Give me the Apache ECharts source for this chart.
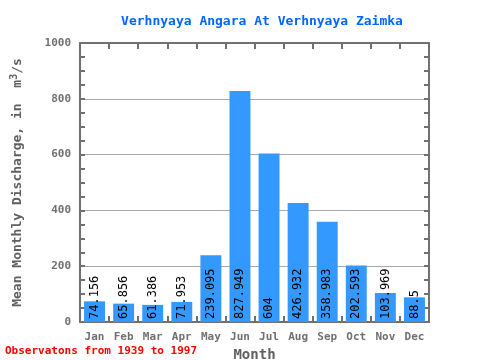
<!DOCTYPE html>
<html><head><meta charset="utf-8">
<script src="https://cdn.jsdelivr.net/npm/echarts@6/dist/echarts.min.js"></script>
<style>html,body{margin:0;padding:0;background:#fff}#c{width:480px;height:360px}</style>
</head><body><div id="c"></div>
<script>
var months = ['Jan','Feb','Mar','Apr','May','Jun','Jul','Aug','Sep','Oct','Nov','Dec'];
var discharge = [74.156, 65.856, 61.386, 71.953, 239.095, 827.949, 604, 426.932, 358.983, 202.593, 103.969, 88.5];
var yTicks = [0, 200, 400, 600, 800, 1000];
var titleText = 'Verhnyaya Angara At Verhnyaya Zaimka';
var noteText = 'Observatons from 1939 to 1997';

var MONO = '"DejaVu Sans Mono", "Liberation Mono", monospace';
var AX = '#707070';
var chart = echarts.init(document.getElementById('c'));
chart.setOption({
  animation: false,
  backgroundColor: '#fff',
  title: {
    text: titleText, left: 257, top: 10, textAlign: 'center',
    textStyle: {fontFamily: MONO, fontSize: 13, fontWeight: 'bold', color: '#0066ff'}
  },
  graphic: [{
    type: 'text', left: 5, top: 346,
    style: {text: noteText, fontFamily: MONO, fontSize: 11, fontWeight: 'bold', fill: '#ff0000'}
  }],
  grid: {left: 80, right: 51, top: 43, bottom: 38, containLabel: false, outerBoundsMode: 'none'},
  xAxis: [{
    type: 'category', data: months, position: 'bottom', boundaryGap: true,
    axisLine: {onZero: false, lineStyle: {color: AX, width: 2}},
    axisTick: {show: true, interval: 0, inside: true, length: 6, lineStyle: {color: AX, width: 2}},
    axisLabel: {interval: 0, fontFamily: MONO, fontSize: 11, fontWeight: 'bold', color: '#707070', margin: 10},
    name: 'Month', nameLocation: 'middle', nameGap: 18,
    nameTextStyle: {fontFamily: MONO, fontSize: 14, fontWeight: 'bold', color: '#606060'}
  }, {
    type: 'category', data: months, position: 'top', boundaryGap: true,
    axisLine: {show: true, onZero: false, lineStyle: {color: AX, width: 2}},
    axisTick: {show: true, interval: 0, inside: true, length: 6, lineStyle: {color: AX, width: 2}},
    axisLabel: {show: false}
  }],
  yAxis: [{
    type: 'value', min: yTicks[0], max: yTicks[yTicks.length-1], interval: 200,
    axisLine: {show: true, onZero: false, lineStyle: {color: AX, width: 2}},
    axisTick: {show: true, inside: true, length: 5, lineStyle: {color: AX, width: 2}},
    minorTick: {show: true, splitNumber: 4, length: 5, lineStyle: {color: AX, width: 2}},
    splitLine: {show: true, lineStyle: {color: '#aaaaaa', width: 1}},
    axisLabel: {fontFamily: MONO, fontSize: 11, fontWeight: 'bold', color: '#707070', margin: 9,
      formatter: function(v){ return String(v); }},
    name: '{b|Mean Monthly Discharge, in  m}{s|3}{b|/s}', nameLocation: 'middle', nameGap: 53, nameRotate: 90,
    nameTextStyle: {
      rich: {
        b: {fontFamily: MONO, fontSize: 13, fontWeight: 'bold', color: '#606060'},
        s: {fontFamily: MONO, fontSize: 10, fontWeight: 'bold', color: '#606060', verticalAlign: 'top', padding: [0,0,8,0]}
      }
    }
  }, {
    type: 'value', min: yTicks[0], max: yTicks[yTicks.length-1], interval: 200, position: 'right',
    axisLine: {show: true, onZero: false, lineStyle: {color: AX, width: 2}},
    axisTick: {show: true, inside: true, length: 5, lineStyle: {color: AX, width: 2}},
    minorTick: {show: true, splitNumber: 4, length: 5, lineStyle: {color: AX, width: 2}},
    splitLine: {show: false},
    axisLabel: {show: false}
  }],
  series: [{
    type: 'bar', data: discharge, barWidth: '72%',
    itemStyle: {color: '#3399ff'},
    label: {
      show: true, position: 'insideBottom', rotate: 90, align: 'left', verticalAlign: 'middle', distance: 3,
      fontFamily: MONO, fontSize: 12, color: '#000',
      formatter: function(p){ return String(p.value); }
    }
  }]
});
</script></body></html>
